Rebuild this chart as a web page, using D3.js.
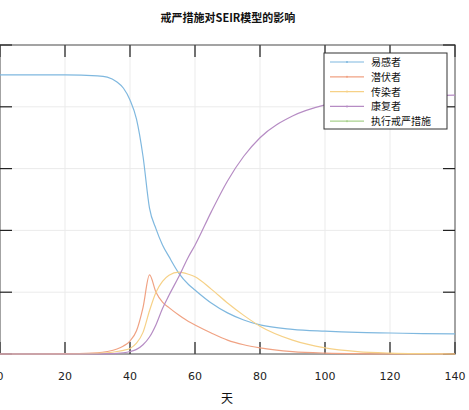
<!DOCTYPE html>
<html><head><meta charset="utf-8">
<script src="https://cdn.jsdelivr.net/npm/d3@7"></script>
<style>body{margin:0;background:#fff;font-family:"Noto Sans CJK SC",sans-serif}</style>
</head><body>
<script>
const days = [0, 10, 20, 30, 33, 36, 38, 40, 42, 44, 46, 48, 50, 52, 55, 58, 60, 65, 70, 75, 80, 90, 100, 110, 120, 130, 140];
const susceptible = [0.903, 0.903, 0.903, 0.900, 0.896, 0.880, 0.860, 0.822, 0.760, 0.640, 0.472, 0.405, 0.353, 0.315, 0.262, 0.225, 0.207, 0.165, 0.133, 0.110, 0.094, 0.080, 0.074, 0.070, 0.068, 0.066, 0.065];
const exposed = [0, 0, 0.001, 0.004, 0.008, 0.016, 0.026, 0.042, 0.075, 0.150, 0.256, 0.200, 0.168, 0.150, 0.126, 0.105, 0.094, 0.068, 0.045, 0.030, 0.020, 0.008, 0.003, 0.001, 0.0005, 0.0002, 0];
const infectious = [0, 0, 0, 0.002, 0.004, 0.008, 0.012, 0.018, 0.035, 0.070, 0.140, 0.200, 0.235, 0.255, 0.265, 0.258, 0.250, 0.210, 0.165, 0.125, 0.090, 0.045, 0.020, 0.008, 0.003, 0.001, 0];
const recovered = [0, 0, 0, 0, 0.001, 0.002, 0.004, 0.008, 0.015, 0.030, 0.055, 0.095, 0.147, 0.190, 0.250, 0.315, 0.352, 0.460, 0.560, 0.640, 0.700, 0.770, 0.806, 0.824, 0.832, 0.836, 0.838];
const seriesNames = ["易感者", "潜伏者", "传染者", "康复者", "执行戒严措施"];
const colors = ["#7fb8df", "#f0a283", "#f6d187", "#b68cc4", "#a9d18e"];
const xTicks = [0, 20, 40, 60, 80, 100, 120, 140];
const yTicks = [0, 0.2, 0.4, 0.6, 0.8, 1.0];

const W = 469, H = 410;
const pLeft = 0, pRight = 455, pTop = 45, pBottom = 354;
const svg = d3.select("body").append("svg").attr("width", W).attr("height", H);
const x = d3.scaleLinear().domain([0, 140]).range([pLeft, pRight]);
const y = d3.scaleLinear().domain([0, 1]).range([pBottom, pTop]);

// grid
svg.append("g").selectAll("line").data(xTicks).enter().append("line")
  .attr("x1", d => x(d)).attr("x2", d => x(d)).attr("y1", pTop).attr("y2", pBottom)
  .attr("stroke", "#ebebeb");
svg.append("g").selectAll("line").data(yTicks).enter().append("line")
  .attr("x1", pLeft).attr("x2", pRight).attr("y1", d => y(d)).attr("y2", d => y(d))
  .attr("stroke", "#ebebeb");

// frame
svg.append("rect").attr("x", pLeft).attr("y", pTop).attr("width", pRight - pLeft).attr("height", pBottom - pTop)
  .attr("fill", "none").attr("stroke", "#888").attr("stroke-width", 1.5);

// ticks
const tk = 12;
svg.append("g").selectAll("line").data(xTicks).enter().append("line")
  .attr("x1", d => x(d)).attr("x2", d => x(d)).attr("y1", pBottom).attr("y2", pBottom - tk)
  .attr("stroke", "#444").attr("stroke-width", 1.5);
svg.append("g").selectAll("line").data(xTicks).enter().append("line")
  .attr("x1", d => x(d)).attr("x2", d => x(d)).attr("y1", pTop).attr("y2", pTop + tk)
  .attr("stroke", "#444").attr("stroke-width", 1.5);
svg.append("g").selectAll("line").data(yTicks).enter().append("line")
  .attr("x1", pLeft).attr("x2", pLeft + tk).attr("y1", d => y(d)).attr("y2", d => y(d))
  .attr("stroke", "#222").attr("stroke-width", 1.2);
svg.append("g").selectAll("line").data(yTicks).enter().append("line")
  .attr("x1", pRight).attr("x2", pRight - tk).attr("y1", d => y(d)).attr("y2", d => y(d))
  .attr("stroke", "#222").attr("stroke-width", 1.2);

svg.append("g").selectAll("text").data(xTicks).enter().append("text")
  .attr("x", d => x(d)).attr("y", pBottom + 26).attr("text-anchor", "middle")
  .attr("font-size", 11).attr("fill", "#222").attr("font-family", "DejaVu Sans, sans-serif")
  .text(d => d);

// lines
const line = d3.line().x((d, i) => x(days[i])).y(d => y(d)).curve(d3.curveMonotoneX);
[susceptible, exposed, infectious, recovered].forEach((s, i) => {
  svg.append("path").attr("d", line(s)).attr("fill", "none")
    .attr("stroke", colors[i]).attr("stroke-width", 1.2);
});

// legend
const lg = svg.append("g");
lg.append("rect").attr("x", 324).attr("y", 53).attr("width", 123).attr("height", 76)
  .attr("fill", "#fff").attr("stroke", "#333").attr("stroke-width", 1);
seriesNames.forEach((n, i) => {
  const yy = 62 + i * 14.8;
  lg.append("line").attr("x1", 330).attr("x2", 364).attr("y1", yy).attr("y2", yy)
    .attr("stroke", colors[i]).attr("stroke-width", 1.2);
  lg.append("circle").attr("cx", 347).attr("cy", yy).attr("r", 1).attr("fill", colors[i]);
  lg.append("text").attr("x", 371).attr("y", yy + 4).attr("font-size", 10).attr("fill", "#111").text(n);
});

svg.append("text").attr("x", 228).attr("y", 22).attr("text-anchor", "middle")
  .attr("font-size", 11).attr("font-weight", "bold").attr("fill", "#111").text("戒严措施对SEIR模型的影响");
svg.append("text").attr("x", 227).attr("y", 403).attr("text-anchor", "middle")
  .attr("font-size", 12).attr("fill", "#111").text("天");
</script>
</body></html>
